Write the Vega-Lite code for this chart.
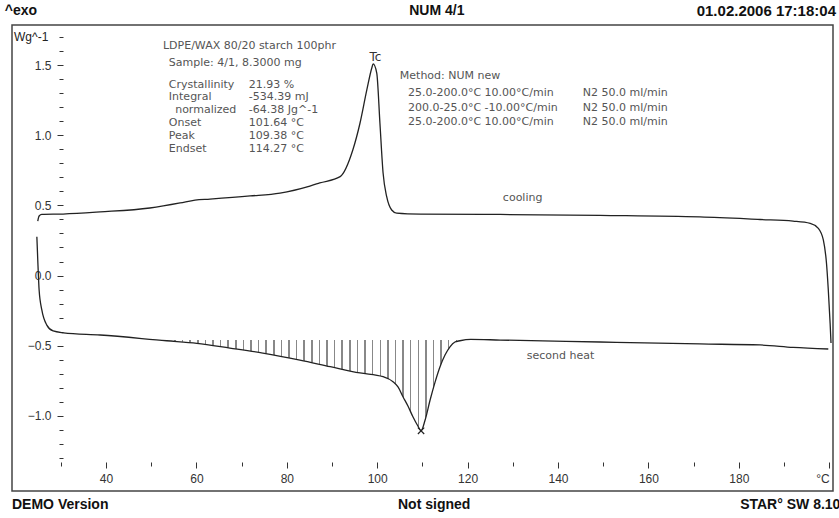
{
  "$schema": "https://vega.github.io/schema/vega-lite/v6.json",
  "width": 821,
  "height": 466,
  "autosize": {"type": "none"},
  "padding": {"left": 12, "top": 25, "right": 6, "bottom": 27},
  "background": "white",
  "config": {
    "view": {"stroke": "#444", "strokeWidth": 1.5},
    "axis": {"labelFont": "Liberation Sans", "labelFontSize": 12, "labelColor": "#333", "tickColor": "#333", "tickWidth": 1, "grid": false}
  },
  "datasets": {
    "cool": [
      {"T": 24.9, "v": 0.389}, {"T": 25.2, "v": 0.425}, {"T": 25.8, "v": 0.436}, {"T": 30.5, "v": 0.439},
      {"T": 38.7, "v": 0.454}, {"T": 49.7, "v": 0.482}, {"T": 56.4, "v": 0.518}, {"T": 59.7, "v": 0.539},
      {"T": 63.0, "v": 0.546}, {"T": 71.9, "v": 0.568}, {"T": 78.5, "v": 0.589}, {"T": 85.1, "v": 0.639},
      {"T": 87.3, "v": 0.661}, {"T": 91.8, "v": 0.706}, {"T": 94.6, "v": 0.896}, {"T": 96.2, "v": 1.089},
      {"T": 97.7, "v": 1.325}, {"T": 98.8, "v": 1.482}, {"T": 99.1, "v": 1.511}, {"T": 99.9, "v": 1.446},
      {"T": 100.6, "v": 1.089}, {"T": 101.3, "v": 0.732}, {"T": 102.1, "v": 0.563}, {"T": 103.2, "v": 0.468},
      {"T": 104.3, "v": 0.446}, {"T": 109.5, "v": 0.439}, {"T": 127.2, "v": 0.436}, {"T": 149.3, "v": 0.429},
      {"T": 171.4, "v": 0.418}, {"T": 184.7, "v": 0.4}, {"T": 192.0, "v": 0.389}, {"T": 195.8, "v": 0.373},
      {"T": 197.6, "v": 0.337}, {"T": 198.7, "v": 0.254}, {"T": 199.4, "v": 0.087}, {"T": 199.8, "v": -0.104},
      {"T": 200.2, "v": -0.339}, {"T": 200.4, "v": -0.482}
    ],
    "heat": [
      {"T": 24.7, "v": 0.277}, {"T": 24.9, "v": 0.111}, {"T": 25.2, "v": -0.104}, {"T": 25.8, "v": -0.246},
      {"T": 26.9, "v": -0.354}, {"T": 28.3, "v": -0.396}, {"T": 30.6, "v": -0.409}, {"T": 38.7, "v": -0.425},
      {"T": 53.4, "v": -0.466}, {"T": 60.1, "v": -0.484}, {"T": 67.4, "v": -0.518}, {"T": 74.7, "v": -0.554},
      {"T": 82.9, "v": -0.604}, {"T": 89.6, "v": -0.651}, {"T": 96.2, "v": -0.696}, {"T": 101.3, "v": -0.723},
      {"T": 103.5, "v": -0.759}, {"T": 104.6, "v": -0.796}, {"T": 105.7, "v": -0.866}, {"T": 106.8, "v": -0.932},
      {"T": 107.9, "v": -1.009}, {"T": 109.0, "v": -1.075}, {"T": 109.7, "v": -1.109}, {"T": 110.6, "v": -1.032},
      {"T": 111.7, "v": -0.889}, {"T": 112.8, "v": -0.761}, {"T": 113.9, "v": -0.651}, {"T": 115.0, "v": -0.568},
      {"T": 116.1, "v": -0.509}, {"T": 117.2, "v": -0.475}, {"T": 118.3, "v": -0.466}, {"T": 120.7, "v": -0.456},
      {"T": 127.2, "v": -0.461}, {"T": 149.3, "v": -0.475}, {"T": 171.4, "v": -0.489}, {"T": 184.7, "v": -0.496},
      {"T": 192.0, "v": -0.513}, {"T": 199.8, "v": -0.525}
    ],
    "notes": [
      {"g": "info", "T": 52.6, "v": 1.639, "text": "LDPE/WAX 80/20 starch 100phr"},
      {"g": "info", "T": 53.9, "v": 1.521, "text": "Sample: 4/1, 8.3000 mg"},
      {"g": "info", "T": 53.9, "v": 1.364, "text": "Crystallinity"},
      {"g": "info", "T": 71.6, "v": 1.364, "text": "21.93 %"},
      {"g": "info", "T": 53.9, "v": 1.273, "text": "Integral"},
      {"g": "info", "T": 71.6, "v": 1.273, "text": "-534.39 mJ"},
      {"g": "info", "T": 55.3, "v": 1.182, "text": "normalized"},
      {"g": "info", "T": 71.6, "v": 1.182, "text": "-64.38 Jg^-1"},
      {"g": "info", "T": 53.9, "v": 1.088, "text": "Onset"},
      {"g": "info", "T": 71.6, "v": 1.088, "text": "101.64 °C"},
      {"g": "info", "T": 53.9, "v": 0.995, "text": "Peak"},
      {"g": "info", "T": 71.6, "v": 0.995, "text": "109.38 °C"},
      {"g": "info", "T": 53.9, "v": 0.904, "text": "Endset"},
      {"g": "info", "T": 71.6, "v": 0.904, "text": "114.27 °C"},
      {"g": "info", "T": 105.0, "v": 1.425, "text": "Method: NUM new"},
      {"g": "info", "T": 106.8, "v": 1.3, "text": "25.0-200.0°C 10.00°C/min"},
      {"g": "info", "T": 145.5, "v": 1.3, "text": "N2 50.0 ml/min"},
      {"g": "info", "T": 106.8, "v": 1.196, "text": "200.0-25.0°C -10.00°C/min"},
      {"g": "info", "T": 145.5, "v": 1.196, "text": "N2 50.0 ml/min"},
      {"g": "info", "T": 106.8, "v": 1.096, "text": "25.0-200.0°C 10.00°C/min"},
      {"g": "info", "T": 145.5, "v": 1.096, "text": "N2 50.0 ml/min"},
      {"g": "info", "T": 127.8, "v": 0.554, "text": "cooling"},
      {"g": "info", "T": 133.1, "v": -0.575, "text": "second heat"},
      {"g": "tc", "T": 99.6, "v": 1.561, "text": "Tc"},
      {"g": "unit", "T": 19.65, "v": 1.704, "text": "Wg^-1"},
      {"g": "hl", "T": 17.6, "v": 1.889, "text": "^exo"},
      {"g": "hc", "T": 113.2, "v": 1.889, "text": "NUM 4/1"},
      {"g": "hr", "T": 201.5, "v": 1.889, "text": "01.02.2006 17:18:04"},
      {"g": "hl", "T": 19.2, "v": -1.639, "text": "DEMO Version"},
      {"g": "hc", "T": 112.6, "v": -1.639, "text": "Not signed"},
      {"g": "hl", "T": 180.3, "v": -1.639, "text": "STAR° SW 8.10"}
    ]
  },
  "encoding": {
    "x": {
      "field": "T", "type": "quantitative",
      "scale": {"domain": [19.2, 200.84], "nice": false, "zero": false},
      "axis": {
        "orient": "bottom", "offset": -29, "domain": false, "title": null,
        "values": [30, 40, 50, 60, 70, 80, 90, 100, 110, 120, 130, 140, 150, 160, 170, 180, 190, 200],
        "labelExpr": "datum.value == 200 ? '°C' : ((datum.value % 20 == 0 && datum.value >= 40 && datum.value <= 180) ? datum.label : '')",
        "tickSize": {"condition": {"test": "datum.value % 20 == 0", "value": 6}, "value": 4},
        "labelAlign": {"condition": {"test": "datum.value == 200", "value": "right"}, "value": "center"},
        "labelPadding": 5, "labelOverlap": false, "labelFlush": false
      }
    },
    "y": {
      "field": "v", "type": "quantitative",
      "scale": {"domain": [-1.539, 1.789], "nice": false, "zero": false},
      "axis": {
        "orient": "left", "offset": -51, "domain": false, "title": null,
        "values": [-1.3, -1.2, -1.1, -1.0, -0.9, -0.8, -0.7, -0.6, -0.5, -0.4, -0.3, -0.2, -0.1, 0, 0.1, 0.2, 0.3, 0.4, 0.5, 0.6, 0.7, 0.8, 0.9, 1.0, 1.1, 1.2, 1.3, 1.4, 1.5, 1.6, 1.7],
        "labelExpr": "abs(datum.value * 2 - round(datum.value * 2)) < 0.01 ? format(datum.value, '.1f') : ''",
        "tickSize": {"condition": {"test": "abs(datum.value * 2 - round(datum.value * 2)) < 0.01", "value": 6}, "value": 4},
        "labelPadding": 6, "labelOverlap": false, "labelFlush": false
      }
    }
  },
  "layer": [
    {
      "data": {"name": "heat"},
      "transform": [{"filter": "datum.T >= 53.4 && datum.T <= 120.7"}],
      "mark": {
        "type": "area", "interpolate": "monotone",
        "fill": {"gradient": "linear", "x1": 0, "y1": 0, "x2": 1, "y2": 0, "stops": [
          {"offset": 0, "color": "#888"}, {"offset": 0.005, "color": "#888"}, {"offset": 0.005, "color": "#fff"}, {"offset": 0.025, "color": "#fff"},
          {"offset": 0.025, "color": "#888"}, {"offset": 0.03, "color": "#888"}, {"offset": 0.03, "color": "#fff"}, {"offset": 0.05, "color": "#fff"},
          {"offset": 0.05, "color": "#888"}, {"offset": 0.055, "color": "#888"}, {"offset": 0.055, "color": "#fff"}, {"offset": 0.075, "color": "#fff"},
          {"offset": 0.075, "color": "#888"}, {"offset": 0.08, "color": "#888"}, {"offset": 0.08, "color": "#fff"}, {"offset": 0.1, "color": "#fff"},
          {"offset": 0.1, "color": "#888"}, {"offset": 0.105, "color": "#888"}, {"offset": 0.105, "color": "#fff"}, {"offset": 0.125, "color": "#fff"},
          {"offset": 0.125, "color": "#888"}, {"offset": 0.13, "color": "#888"}, {"offset": 0.13, "color": "#fff"}, {"offset": 0.15, "color": "#fff"},
          {"offset": 0.15, "color": "#888"}, {"offset": 0.155, "color": "#888"}, {"offset": 0.155, "color": "#fff"}, {"offset": 0.175, "color": "#fff"},
          {"offset": 0.175, "color": "#888"}, {"offset": 0.18, "color": "#888"}, {"offset": 0.18, "color": "#fff"}, {"offset": 0.2, "color": "#fff"},
          {"offset": 0.2, "color": "#888"}, {"offset": 0.205, "color": "#888"}, {"offset": 0.205, "color": "#fff"}, {"offset": 0.225, "color": "#fff"},
          {"offset": 0.225, "color": "#888"}, {"offset": 0.23, "color": "#888"}, {"offset": 0.23, "color": "#fff"}, {"offset": 0.25, "color": "#fff"},
          {"offset": 0.25, "color": "#888"}, {"offset": 0.255, "color": "#888"}, {"offset": 0.255, "color": "#fff"}, {"offset": 0.275, "color": "#fff"},
          {"offset": 0.275, "color": "#888"}, {"offset": 0.28, "color": "#888"}, {"offset": 0.28, "color": "#fff"}, {"offset": 0.3, "color": "#fff"},
          {"offset": 0.3, "color": "#888"}, {"offset": 0.305, "color": "#888"}, {"offset": 0.305, "color": "#fff"}, {"offset": 0.325, "color": "#fff"},
          {"offset": 0.325, "color": "#888"}, {"offset": 0.33, "color": "#888"}, {"offset": 0.33, "color": "#fff"}, {"offset": 0.35, "color": "#fff"},
          {"offset": 0.35, "color": "#888"}, {"offset": 0.355, "color": "#888"}, {"offset": 0.355, "color": "#fff"}, {"offset": 0.375, "color": "#fff"},
          {"offset": 0.375, "color": "#888"}, {"offset": 0.38, "color": "#888"}, {"offset": 0.38, "color": "#fff"}, {"offset": 0.4, "color": "#fff"},
          {"offset": 0.4, "color": "#888"}, {"offset": 0.405, "color": "#888"}, {"offset": 0.405, "color": "#fff"}, {"offset": 0.425, "color": "#fff"},
          {"offset": 0.425, "color": "#888"}, {"offset": 0.43, "color": "#888"}, {"offset": 0.43, "color": "#fff"}, {"offset": 0.45, "color": "#fff"},
          {"offset": 0.45, "color": "#888"}, {"offset": 0.455, "color": "#888"}, {"offset": 0.455, "color": "#fff"}, {"offset": 0.475, "color": "#fff"},
          {"offset": 0.475, "color": "#888"}, {"offset": 0.48, "color": "#888"}, {"offset": 0.48, "color": "#fff"}, {"offset": 0.5, "color": "#fff"},
          {"offset": 0.5, "color": "#888"}, {"offset": 0.505, "color": "#888"}, {"offset": 0.505, "color": "#fff"}, {"offset": 0.525, "color": "#fff"},
          {"offset": 0.525, "color": "#888"}, {"offset": 0.53, "color": "#888"}, {"offset": 0.53, "color": "#fff"}, {"offset": 0.55, "color": "#fff"},
          {"offset": 0.55, "color": "#888"}, {"offset": 0.555, "color": "#888"}, {"offset": 0.555, "color": "#fff"}, {"offset": 0.575, "color": "#fff"},
          {"offset": 0.575, "color": "#888"}, {"offset": 0.58, "color": "#888"}, {"offset": 0.58, "color": "#fff"}, {"offset": 0.6, "color": "#fff"},
          {"offset": 0.6, "color": "#888"}, {"offset": 0.605, "color": "#888"}, {"offset": 0.605, "color": "#fff"}, {"offset": 0.625, "color": "#fff"},
          {"offset": 0.625, "color": "#888"}, {"offset": 0.63, "color": "#888"}, {"offset": 0.63, "color": "#fff"}, {"offset": 0.65, "color": "#fff"},
          {"offset": 0.65, "color": "#888"}, {"offset": 0.655, "color": "#888"}, {"offset": 0.655, "color": "#fff"}, {"offset": 0.675, "color": "#fff"},
          {"offset": 0.675, "color": "#888"}, {"offset": 0.68, "color": "#888"}, {"offset": 0.68, "color": "#fff"}, {"offset": 0.7, "color": "#fff"},
          {"offset": 0.7, "color": "#888"}, {"offset": 0.705, "color": "#888"}, {"offset": 0.705, "color": "#fff"}, {"offset": 0.725, "color": "#fff"},
          {"offset": 0.725, "color": "#888"}, {"offset": 0.73, "color": "#888"}, {"offset": 0.73, "color": "#fff"}, {"offset": 0.75, "color": "#fff"},
          {"offset": 0.75, "color": "#888"}, {"offset": 0.755, "color": "#888"}, {"offset": 0.755, "color": "#fff"}, {"offset": 0.775, "color": "#fff"},
          {"offset": 0.775, "color": "#888"}, {"offset": 0.78, "color": "#888"}, {"offset": 0.78, "color": "#fff"}, {"offset": 0.8, "color": "#fff"},
          {"offset": 0.8, "color": "#888"}, {"offset": 0.805, "color": "#888"}, {"offset": 0.805, "color": "#fff"}, {"offset": 0.825, "color": "#fff"},
          {"offset": 0.825, "color": "#888"}, {"offset": 0.83, "color": "#888"}, {"offset": 0.83, "color": "#fff"}, {"offset": 0.85, "color": "#fff"},
          {"offset": 0.85, "color": "#888"}, {"offset": 0.855, "color": "#888"}, {"offset": 0.855, "color": "#fff"}, {"offset": 0.875, "color": "#fff"},
          {"offset": 0.875, "color": "#888"}, {"offset": 0.88, "color": "#888"}, {"offset": 0.88, "color": "#fff"}, {"offset": 0.9, "color": "#fff"},
          {"offset": 0.9, "color": "#888"}, {"offset": 0.905, "color": "#888"}, {"offset": 0.905, "color": "#fff"}, {"offset": 0.925, "color": "#fff"},
          {"offset": 0.925, "color": "#888"}, {"offset": 0.93, "color": "#888"}, {"offset": 0.93, "color": "#fff"}, {"offset": 0.95, "color": "#fff"},
          {"offset": 0.95, "color": "#888"}, {"offset": 0.955, "color": "#888"}, {"offset": 0.955, "color": "#fff"}, {"offset": 0.975, "color": "#fff"},
          {"offset": 0.975, "color": "#888"}, {"offset": 0.98, "color": "#888"}, {"offset": 0.98, "color": "#fff"}, {"offset": 1, "color": "#fff"}
        ]}
      },
      "encoding": {"y2": {"datum": -0.461}}
    },
    {
      "data": {"name": "cool"},
      "mark": {"type": "line", "interpolate": "monotone", "stroke": "#222", "strokeWidth": 1.3}
    },
    {
      "data": {"name": "heat"},
      "mark": {"type": "line", "interpolate": "monotone", "stroke": "#222", "strokeWidth": 1.3}
    },
    {
      "data": {"values": [{}]},
      "mark": {"type": "rule", "stroke": "#333", "strokeWidth": 1},
      "encoding": {
        "x": {"datum": 53.4, "type": "quantitative"}, "x2": {"datum": 120.7},
        "y": {"datum": -0.466, "type": "quantitative"}, "y2": {"datum": -0.456}
      }
    },
    {
      "data": {"values": [{"T": 53.4}, {"T": 120.7}]},
      "mark": {"type": "rule", "stroke": "#222", "strokeWidth": 1.6, "strokeDash": [3, 6]},
      "encoding": {
        "y": {"datum": -0.418, "type": "quantitative"}, "y2": {"datum": -0.51}
      }
    },
    {
      "data": {"values": [{"T": 109.7, "v": -1.109}]},
      "mark": {"type": "point", "shape": "M-1,-1L1,1M-1,1L1,-1", "size": 40, "stroke": "#222", "strokeWidth": 1.2, "filled": false, "opacity": 1}
    },
    {
      "data": {"values": [{}]},
      "mark": {"type": "rule", "stroke": "#333", "strokeWidth": 1.2},
      "encoding": {
        "x": {"datum": 25, "type": "quantitative"}, "x2": {"datum": 200.5},
        "y": {"datum": -1.332, "type": "quantitative"}
      }
    },
    {
      "data": {"values": [{}]},
      "mark": {"type": "rule", "stroke": "#333", "strokeWidth": 1.2},
      "encoding": {
        "x": {"datum": 30.49, "type": "quantitative"},
        "y": {"datum": -1.36, "type": "quantitative"}, "y2": {"datum": 1.74}
      }
    },
    {
      "data": {"name": "notes"},
      "transform": [{"filter": "datum.g == 'info'"}],
      "mark": {"type": "text", "align": "left", "baseline": "middle", "font": "DejaVu Sans", "fontSize": 11, "fill": "#555"},
      "encoding": {"text": {"field": "text"}}
    },
    {
      "data": {"name": "notes"},
      "transform": [{"filter": "datum.g == 'tc'"}],
      "mark": {"type": "text", "align": "center", "baseline": "middle", "font": "DejaVu Sans", "fontSize": 12, "fill": "#333"},
      "encoding": {"text": {"field": "text"}}
    },
    {
      "data": {"name": "notes"},
      "transform": [{"filter": "datum.g == 'unit'"}],
      "mark": {"type": "text", "align": "left", "baseline": "middle", "font": "Liberation Sans", "fontSize": 12, "fill": "#222"},
      "encoding": {"text": {"field": "text"}}
    },
    {
      "data": {"name": "notes"},
      "transform": [{"filter": "datum.g == 'hl'"}],
      "mark": {"type": "text", "align": "left", "baseline": "middle", "font": "Liberation Sans", "fontSize": 14, "fontWeight": "bold", "fill": "#111"},
      "encoding": {"text": {"field": "text"}}
    },
    {
      "data": {"name": "notes"},
      "transform": [{"filter": "datum.g == 'hc'"}],
      "mark": {"type": "text", "align": "center", "baseline": "middle", "font": "Liberation Sans", "fontSize": 14, "fontWeight": "bold", "fill": "#111"},
      "encoding": {"text": {"field": "text"}}
    },
    {
      "data": {"name": "notes"},
      "transform": [{"filter": "datum.g == 'hr'"}],
      "mark": {"type": "text", "align": "right", "baseline": "middle", "font": "Liberation Sans", "fontSize": 15, "fontWeight": "bold", "fill": "#111"},
      "encoding": {"text": {"field": "text"}}
    }
  ]
}
